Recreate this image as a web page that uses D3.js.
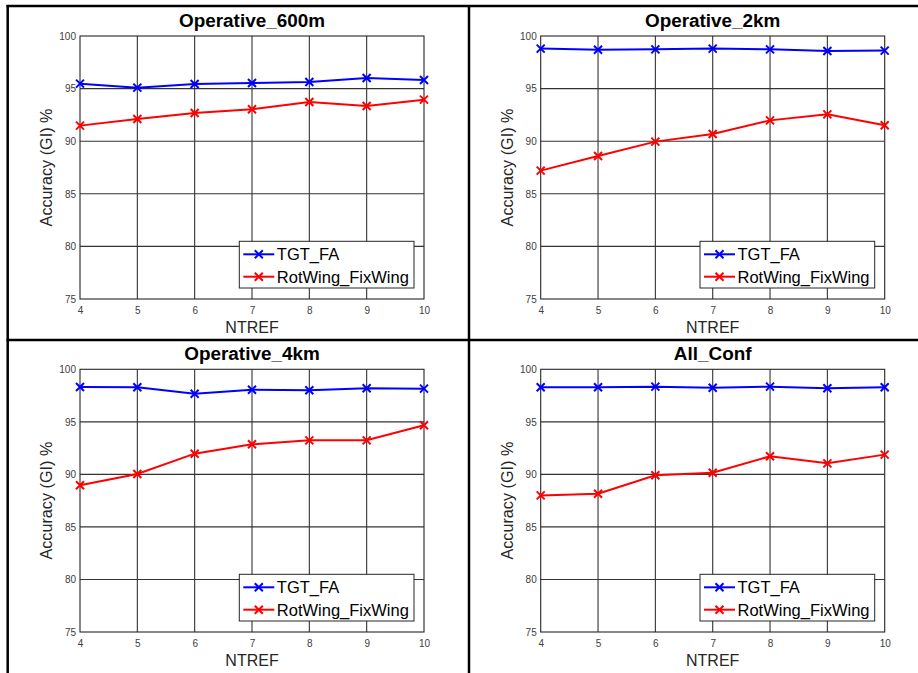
<!DOCTYPE html>
<html>
<head>
<meta charset="utf-8">
<script src="https://cdn.jsdelivr.net/npm/d3@7/dist/d3.min.js"></script>
<style>
  html, body { margin: 0; padding: 0; background: #fff; }
  svg { display: block; }
  text { font-family: "Liberation Sans", Arial, sans-serif; }
</style>
</head>
<body>
<svg id="chart" width="918" height="673"></svg>
<script>
// ---------- data ----------
const ntref = [4, 5, 6, 7, 8, 9, 10];
const panelTitles = ["Operative_600m", "Operative_2km", "Operative_4km", "All_Conf"];
const seriesNames = ["TGT_FA", "RotWing_FixWing"];
const yTicks = [75, 80, 85, 90, 95, 100];
const xTicks = [4, 5, 6, 7, 8, 9, 10];

const tgt600 = [95.47, 95.09, 95.44, 95.53, 95.63, 96.00, 95.82];
const rot600 = [91.48, 92.11, 92.68, 93.03, 93.73, 93.35, 93.95];
const tgt2k  = [98.80, 98.70, 98.73, 98.80, 98.73, 98.57, 98.61];
const rot2k  = [87.20, 88.59, 89.96, 90.68, 91.98, 92.55, 91.51];
const tgt4k  = [98.32, 98.29, 97.68, 98.06, 98.00, 98.19, 98.16];
const rot4k  = [88.96, 90.04, 91.97, 92.86, 93.24, 93.24, 94.67];
const tgtAll = [98.29, 98.29, 98.35, 98.25, 98.35, 98.19, 98.29];
const rotAll = [88.00, 88.16, 89.91, 90.16, 91.72, 91.05, 91.88];

const panelData = [
  [tgt600, rot600],
  [tgt2k, rot2k],
  [tgt4k, rot4k],
  [tgtAll, rotAll]
];
const seriesColors = ["#0000ff", "#ff0000"];

// ---------- layout ----------
const svg = d3.select("#chart");
const boxes = [
  { x0: 80, x1: 424, y0: 36, y1: 299 },
  { x0: 540.7, x1: 884.7, y0: 36, y1: 299 },
  { x0: 80, x1: 424, y0: 369.3, y1: 632 },
  { x0: 540.7, x1: 884.7, y0: 369.3, y1: 632 }
];

// table borders
const border = svg.append("g").attr("stroke", "#000").attr("stroke-width", 2.5).attr("fill", "none");
border.append("line").attr("x1", 6.5).attr("x2", 918).attr("y1", 6).attr("y2", 6);
border.append("line").attr("x1", 7.7).attr("x2", 7.7).attr("y1", 5).attr("y2", 673);
border.append("line").attr("x1", 469).attr("x2", 469).attr("y1", 5).attr("y2", 673);
border.append("line").attr("x1", 6.5).attr("x2", 918).attr("y1", 340).attr("y2", 340);

panelTitles.forEach((title, i) => {
  const b = boxes[i];
  const x = d3.scaleLinear().domain([4, 10]).range([b.x0, b.x1]);
  const y = d3.scaleLinear().domain([75, 100]).range([b.y1, b.y0]);
  const g = svg.append("g");

  // grid
  g.append("g").selectAll("line").data(xTicks.slice(1, -1)).join("line")
    .attr("x1", d => x(d)).attr("x2", d => x(d))
    .attr("y1", b.y0).attr("y2", b.y1)
    .attr("stroke", "#333").attr("stroke-width", 1.1);
  g.append("g").selectAll("line").data(yTicks.slice(1, -1)).join("line")
    .attr("y1", d => y(d)).attr("y2", d => y(d))
    .attr("x1", b.x0).attr("x2", b.x1)
    .attr("stroke", "#333").attr("stroke-width", 1.1);

  // axes
  const ax = g.append("g").attr("transform", `translate(0,${b.y1})`)
    .call(d3.axisBottom(x).tickValues(xTicks).tickSize(0).tickPadding(8).tickFormat(d3.format("d")));
  ax.select(".domain").remove();
  ax.selectAll("text").attr("font-size", 10).attr("fill", "#404040")
    .attr("font-family", "Liberation Sans, Arial, sans-serif");

  const ay = g.append("g").attr("transform", `translate(${b.x0},0)`)
    .call(d3.axisLeft(y).tickValues(yTicks).tickSize(0).tickPadding(4).tickFormat(d3.format("d")));
  ay.select(".domain").remove();
  ay.selectAll("text").attr("font-size", 10).attr("fill", "#404040")
    .attr("font-family", "Liberation Sans, Arial, sans-serif");

  // plot box
  g.append("rect").attr("x", b.x0).attr("y", b.y0)
    .attr("width", b.x1 - b.x0).attr("height", b.y1 - b.y0)
    .attr("fill", "none").attr("stroke", "#262626").attr("stroke-width", 1.1);

  // title
  g.append("text").attr("x", (b.x0 + b.x1) / 2).attr("y", b.y0 - 9)
    .attr("text-anchor", "middle").attr("font-size", 18.9).attr("font-weight", "bold")
    .attr("fill", "#000").text(title);

  // axis labels
  g.append("text").attr("x", (b.x0 + b.x1) / 2).attr("y", b.y1 + 34)
    .attr("text-anchor", "middle").attr("font-size", 16).attr("fill", "#262626").text("NTREF");
  g.append("text")
    .attr("transform", `translate(${b.x0 - 28},${(b.y0 + b.y1) / 2}) rotate(-90)`)
    .attr("text-anchor", "middle").attr("font-size", 16.2).attr("fill", "#262626")
    .text("Accuracy (GI) %");

  // series
  const line = d3.line().x((d, k) => x(ntref[k])).y(d => y(d));
  panelData[i].forEach((vals, s) => {
    g.append("path").datum(vals).attr("d", line)
      .attr("fill", "none").attr("stroke", seriesColors[s]).attr("stroke-width", 2);
    const m = 4;
    g.append("g").selectAll("path").data(vals).join("path")
      .attr("d", (d, k) => {
        const cx = x(ntref[k]), cy = y(d);
        return `M${cx - m},${cy - m}L${cx + m},${cy + m}M${cx - m},${cy + m}L${cx + m},${cy - m}`;
      })
      .attr("stroke", seriesColors[s]).attr("stroke-width", 2).attr("fill", "none");
  });

  // legend
  const lx1 = b.x1 - 10, lx0 = lx1 - 174.7;
  const ly1 = b.y1 - 11, ly0 = ly1 - 46.7;
  const lg = g.append("g");
  lg.append("rect").attr("x", lx0).attr("y", ly0).attr("width", lx1 - lx0).attr("height", ly1 - ly0)
    .attr("fill", "#fff").attr("stroke", "#262626").attr("stroke-width", 1);
  seriesNames.forEach((name, s) => {
    const ry = ly0 + 13 + s * 22.4;
    lg.append("line").attr("x1", lx0 + 4).attr("x2", lx0 + 35).attr("y1", ry).attr("y2", ry)
      .attr("stroke", seriesColors[s]).attr("stroke-width", 2);
    const cx = lx0 + 19.5, m = 4;
    lg.append("path")
      .attr("d", `M${cx - m},${ry - m}L${cx + m},${ry + m}M${cx - m},${ry + m}L${cx + m},${ry - m}`)
      .attr("stroke", seriesColors[s]).attr("stroke-width", 2);
    lg.append("text").attr("x", lx0 + 37.5).attr("y", ry).attr("dy", "0.36em")
      .attr("font-size", 16.5).attr("fill", "#000").text(name);
  });
});
</script>
</body>
</html>
